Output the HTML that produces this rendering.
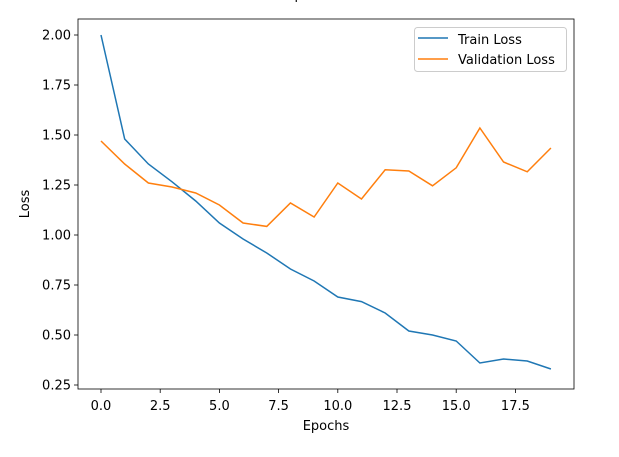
<!DOCTYPE html>
<html><head><meta charset="utf-8"><style>
body{margin:0;background:#fff;width:619px;height:452px;overflow:hidden}
text{font-family:"DejaVu Sans","Liberation Sans",sans-serif;fill:#000}
</style></head><body>
<svg id="chart" width="619" height="452">
<text x="284" y="-1" font-size="13" text-anchor="middle">Loss vs Epochs</text>
<g id="plot"></g>
<rect x="78" y="19" width="496" height="370" fill="none" stroke="#000" stroke-width="0.8"/>
<text x="326" y="430" font-size="13" text-anchor="middle">Epochs</text>
<text transform="translate(29,204) rotate(-90)" font-size="13" text-anchor="middle">Loss</text>
<g>
<rect x="414.5" y="27.5" width="152" height="44" fill="#fff" stroke="#ccc" rx="3"/>
<line x1="418" y1="38" x2="448" y2="38" stroke="#1f77b4" stroke-width="1.5"/>
<text x="458" y="44" font-size="13">Train Loss</text>
<line x1="418" y1="59" x2="448" y2="59" stroke="#ff7f0e" stroke-width="1.5"/>
<text x="458" y="64" font-size="13">Validation Loss</text>
</g>
</svg>
<script>
const epochs=[0,1,2,3,4,5,6,7,8,9,10,11,12,13,14,15,16,17,18,19];
const trainLoss=[2.00,1.48,1.355,1.266,1.17,1.06,0.98,0.91,0.83,0.77,0.69,0.667,0.61,0.52,0.50,0.47,0.36,0.38,0.37,0.33];
const valLoss=[1.47,1.355,1.26,1.24,1.21,1.15,1.06,1.043,1.16,1.09,1.26,1.18,1.326,1.32,1.246,1.336,1.535,1.365,1.316,1.435];
const xTicks=[0,2.5,5,7.5,10,12.5,15,17.5];
const xTickLabels=["0.0","2.5","5.0","7.5","10.0","12.5","15.0","17.5"];
const yTicks=[0.25,0.5,0.75,1.0,1.25,1.5,1.75,2.0];
const yTickLabels=["0.25","0.50","0.75","1.00","1.25","1.50","1.75","2.00"];
const X=v=>101+v*23.68;
const Y=v=>35+(2-v)*200;
const NS="http://www.w3.org/2000/svg";
const g=document.getElementById('plot');
function mk(t,a){const e=document.createElementNS(NS,t);for(const k in a)e.setAttribute(k,a[k]);g.appendChild(e);return e;}
xTicks.forEach((v,i)=>{
 const l=mk('line',{x1:X(v),x2:X(v),y1:389,y2:393,stroke:'#000','stroke-width':0.8});
 
 
 const t=mk('text',{x:X(v),y:410,'font-size':13,'text-anchor':'middle'});t.textContent=xTickLabels[i];
 
 
});
yTicks.forEach((v,i)=>{
 const l=mk('line',{x1:74,x2:78,y1:Y(v),y2:Y(v),stroke:'#000','stroke-width':0.8});
 
 
 const t=mk('text',{x:71,y:Y(v)+4.5,'font-size':13,'text-anchor':'end'});t.textContent=yTickLabels[i];
 
 
});
const p1=mk('polyline',{points:epochs.map((e,i)=>X(e)+','+Y(trainLoss[i])).join(' '),fill:'none',stroke:'#1f77b4','stroke-width':1.5});


const p2=mk('polyline',{points:epochs.map((e,i)=>X(e)+','+Y(valLoss[i])).join(' '),fill:'none',stroke:'#ff7f0e','stroke-width':1.5});


</script>
</body></html>
